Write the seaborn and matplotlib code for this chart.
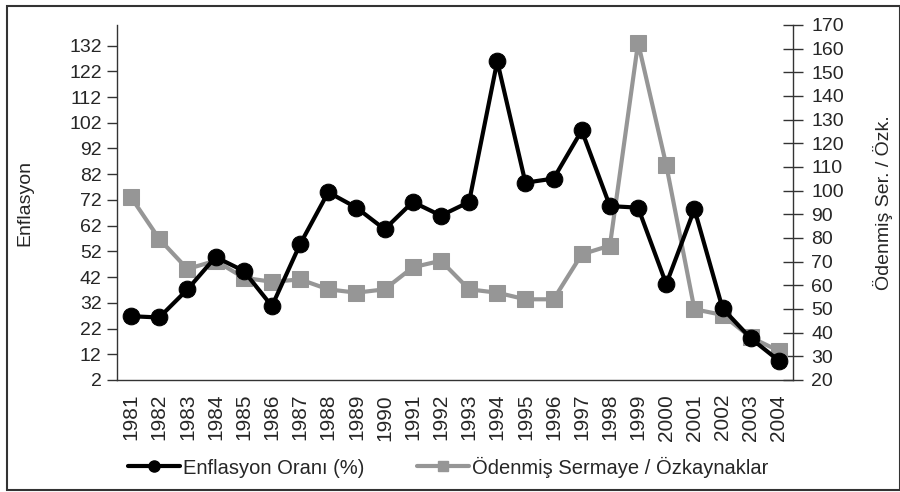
import numpy as np
import pandas as pd
import matplotlib
matplotlib.use("Agg")
import matplotlib.pyplot as plt
import seaborn as sns
from matplotlib.patches import Rectangle
from matplotlib.lines import Line2D

years = list(range(1981, 2005))
enflasyon = [26.8, 26.3, 37.2, 49.8, 44.4, 30.7, 54.8, 75.0, 69.0, 60.6, 71.2, 65.9,
             71.2, 125.9, 78.7, 80.3, 99.0, 69.6, 69.0, 39.3, 68.4, 29.8, 18.2, 9.5]
sermaye_ozk = [97.2, 79.6, 66.9, 70.4, 63.2, 61.5, 62.5, 58.3, 56.9, 58.3, 67.6, 70.4,
               58.3, 56.9, 54.1, 54.1, 73.1, 76.8, 162.5, 110.8, 49.9, 47.5, 38.0, 32.3]

df = pd.DataFrame({"pos": np.arange(len(years)), "yil": years,
                   "enf": enflasyon, "soz": sermaye_ozk})

sns.set_style("white")
plt.rcParams["font.family"] = ["Liberation Sans", "DejaVu Sans"]
plt.rcParams["font.size"] = 14

fig = plt.figure(figsize=(9, 4.92), dpi=100)
ax = fig.add_axes([117 / 900, 1 - 380 / 492, (793 - 117) / 900, (380 - 25) / 492])
ax2 = ax.twinx()

gri = "#969696"
sns.lineplot(data=df, x="pos", y="enf", ax=ax, color="black", lw=3, marker="o",
             markersize=12, markeredgecolor="black", zorder=3)
sns.lineplot(data=df, x="pos", y="soz", ax=ax2, color=gri, lw=3, marker="s",
             markersize=11, markeredgecolor=gri, zorder=2)

# ikinci eksen arkada, siyah seri ustte kalsin
ax.set_zorder(ax2.get_zorder() + 1)
ax.patch.set_visible(False)

ax.set_xlim(-0.5, len(years) - 0.5)
ax.set_ylim(2, 140)
ax.set_yticks(np.arange(2, 133, 10))
ax2.set_ylim(20, 170)
ax2.set_yticks(np.arange(20, 171, 10))

ax.set_xticks(df["pos"])
ax.set_xticklabels([str(y) for y in years], rotation=90, fontsize=15)
ax.set_xticks(np.arange(-0.5, len(years), 1), minor=True)
ax.tick_params(axis="x", which="major", length=0, pad=10)
ax.tick_params(axis="x", which="minor", length=7, width=1, color="#333333", direction="out")
ax.tick_params(axis="y", length=7, width=1, color="#333333", direction="out", pad=4)
ax2.tick_params(axis="y", length=14, width=1, color="#333333", direction="inout", pad=6)

ax.set_xlabel("")
ax.set_ylabel("Enflasyon", labelpad=26)
ax2.set_ylabel("Ödenmiş Ser. / Özk.", labelpad=21)

for a in (ax, ax2):
    a.spines["top"].set_visible(False)
    for s in ("left", "right", "bottom"):
        a.spines[s].set_color("#333333")
        a.spines[s].set_linewidth(1)
ax.spines["right"].set_visible(False)
ax2.spines["left"].set_visible(False)
ax2.spines["bottom"].set_visible(False)
ax.grid(False)
ax2.grid(False)

handles = [Line2D([], [], color="black", lw=3, marker="o", markersize=8),
           Line2D([], [], color=gri, lw=3, marker="s", markersize=7)]
fig.legend(handles, ["Enflasyon Oranı (%)", "Ödenmiş Sermaye / Özkaynaklar"],
           loc="center", bbox_to_anchor=(0.498, 1 - 467 / 492), ncol=2, frameon=False,
           handlelength=2.6, handletextpad=0.15, columnspacing=2.6, fontsize=14.5)

fig.patches.append(Rectangle((7 / 900, 2 / 492), 1 - 7 / 900, 1 - 8 / 492,
                             transform=fig.transFigure, fill=False,
                             edgecolor="#333333", lw=1.5))

fig.savefig("out.png", dpi=100)
